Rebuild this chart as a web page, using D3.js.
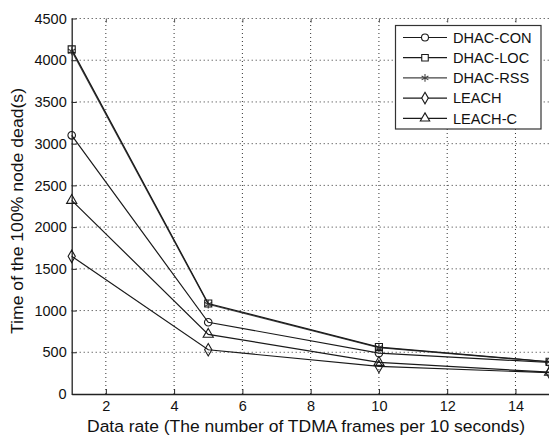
<!DOCTYPE html>
<html><head><meta charset="utf-8">
<script src="https://cdn.jsdelivr.net/npm/d3@7"></script>
<style>body{margin:0;background:#fff}svg{display:block}text{font-family:"Liberation Sans",Arial,sans-serif;fill:#111}</style>
</head><body>
<svg id="c" width="549" height="435"></svg>
<script>
const xValues = [1, 5, 10, 15];
const seriesNames = ["DHAC-CON", "DHAC-LOC", "DHAC-RSS", "LEACH", "LEACH-C"];
const dhacCon = [3100, 860, 490, 378];
const dhacLoc = [4130, 1085, 562, 386];
const dhacRss = [4110, 1075, 555, 385];
const leach = [1650, 530, 330, 255];
const leachC = [2320, 715, 378, 262];
const xTicks = [2, 4, 6, 8, 10, 12, 14];
const yTicks = [0, 500, 1000, 1500, 2000, 2500, 3000, 3500, 4000, 4500];
const xLabel = "Data rate (The number of TDMA frames per 10 seconds)";
const yLabel = "Time of the 100% node dead(s)";

const series = [
  {name: seriesNames[0], values: dhacCon, sym: d3.symbolCircle, size: 45, color: "#1a1a1a"},
  {name: seriesNames[1], values: dhacLoc, sym: d3.symbolSquare, size: 50, color: "#1a1a1a"},
  {name: seriesNames[2], values: dhacRss, sym: d3.symbolAsterisk, size: 50, color: "#444"},
  {name: seriesNames[3], values: leach, sym: d3.symbolDiamond, size: 45, color: "#1a1a1a"},
  {name: seriesNames[4], values: leachC, sym: d3.symbolTriangle, size: 45, color: "#1a1a1a"}
];

const L = 71.7, R = 549.6, T = 18.5, B = 394;
const x = d3.scaleLinear().domain([1, 15]).range([L, R]);
const y = d3.scaleLinear().domain([0, 4500]).range([B, T]);
const svg = d3.select("#c");

// grid
const grid = svg.append("g").attr("stroke", "#333").attr("stroke-dasharray", "1,3").attr("stroke-width", 1);
xTicks.forEach(t => grid.append("line").attr("x1", x(t)).attr("x2", x(t)).attr("y1", B).attr("y2", T));
yTicks.filter(t => t > 0).forEach(t => grid.append("line").attr("x1", L).attr("x2", R).attr("y1", y(t)).attr("y2", y(t)));

// axes
const xAxis = d3.axisBottom(x).tickValues(xTicks).tickSizeInner(-5).tickSizeOuter(0).tickPadding(7);
const gx = svg.append("g").attr("transform", `translate(0,${B})`).call(xAxis);
gx.select(".domain").attr("stroke", "#222").attr("stroke-width", 1.3);
gx.selectAll(".tick line").attr("stroke", "#222");
gx.selectAll("text").attr("font-size", 14.5).attr("fill", "#111").attr("font-family", "Liberation Sans, Arial, sans-serif");

const yAxis = d3.axisLeft(y).tickValues(yTicks).tickSizeInner(-5).tickSizeOuter(0).tickPadding(5).tickFormat(d3.format("d"));
const gy = svg.append("g").attr("transform", `translate(${L},0)`).call(yAxis);
gy.select(".domain").attr("stroke", "#222").attr("stroke-width", 1.3);
gy.selectAll(".tick line").attr("stroke", "#222");
gy.selectAll("text").attr("font-size", 14.5).attr("fill", "#111").attr("font-family", "Liberation Sans, Arial, sans-serif");

// top ticks
const topAxis = d3.axisTop(x).tickValues(xTicks).tickSizeInner(-4).tickSizeOuter(0).tickFormat("");
const gt = svg.append("g").attr("transform", `translate(0,${T})`).call(topAxis);
gt.select(".domain").remove();
gt.selectAll(".tick line").attr("stroke", "#555");

// labels
svg.append("text").attr("x", 306).attr("y", 431.5).attr("text-anchor", "middle").attr("font-size", 16.3)
  .attr("textLength", 438).attr("lengthAdjust", "spacingAndGlyphs").text(xLabel);
svg.append("text").attr("transform", "translate(22.5,211) rotate(-90)").attr("text-anchor", "middle").attr("font-size", 16.3)
  .attr("textLength", 246).attr("lengthAdjust", "spacingAndGlyphs").text(yLabel);

// lines
const line = d3.line().x((d, i) => x(xValues[i])).y(d => y(d));
const order = [3, 4, 0, 2, 1];
order.forEach(k => {
  const s = series[k];
  svg.append("path").datum(s.values).attr("d", line).attr("fill", "none").attr("stroke", s.color).attr("stroke-width", 1.2);
  svg.append("g").selectAll("path").data(s.values).join("path")
    .attr("transform", (d, i) => `translate(${x(xValues[i])},${y(d)})`)
    .attr("d", d3.symbol().type(s.sym).size(s.size))
    .attr("fill", "none").attr("stroke", s.color).attr("stroke-width", 1.1);
});

// legend
const lg = svg.append("g");
lg.append("rect").attr("x", 395.5).attr("y", 25.5).attr("width", 145.5).attr("height", 103.5)
  .attr("fill", "#fff").attr("stroke", "#333").attr("stroke-width", 1.2);
series.forEach((s, i) => {
  const yy = 37.5 + i * 20.2;
  lg.append("line").attr("x1", 403).attr("x2", 447).attr("y1", yy).attr("y2", yy).attr("stroke", s.color).attr("stroke-width", 1.2);
  lg.append("path").attr("transform", `translate(425,${yy})`).attr("d", d3.symbol().type(s.sym).size(s.size * 0.85))
    .attr("fill", "#fff").attr("stroke", s.color).attr("stroke-width", 1.1);
  lg.append("text").attr("x", 453).attr("y", yy + 5.3).attr("font-size", 14.6).text(s.name);
});
</script>
</body></html>
